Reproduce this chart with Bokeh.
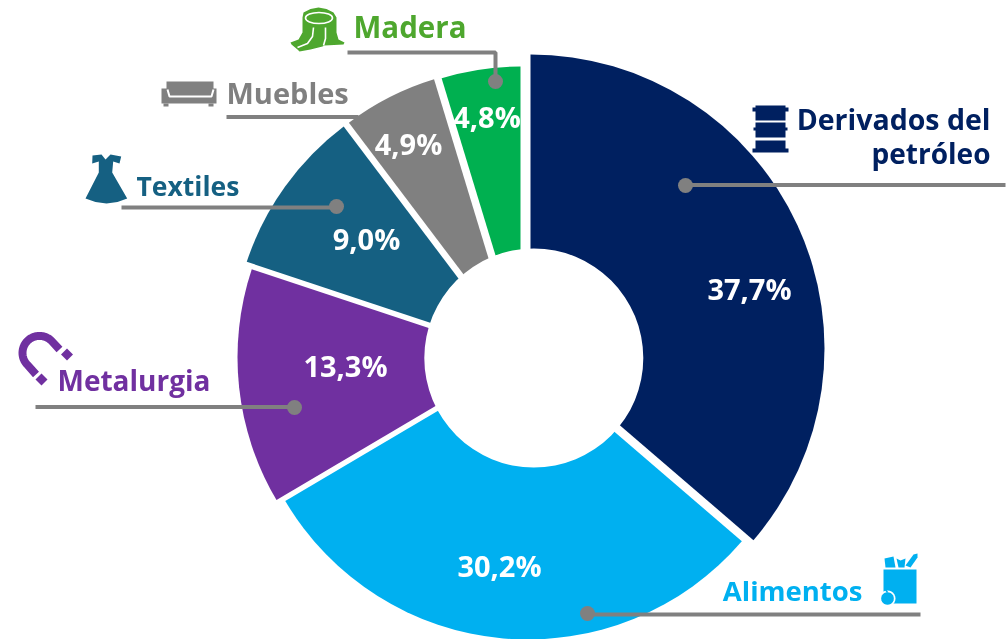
import math
from bokeh.plotting import figure
from bokeh.models import Range1d
from bokeh.core.properties import value
from bokeh.embed import file_html
from bokeh.resources import INLINE

# ---- data
categories = ["Derivados del petróleo", "Alimentos", "Metalurgia", "Textiles", "Muebles", "Madera"]
pct_labels = ["37,7%", "30,2%", "13,3%", "9,0%", "4,9%", "4,8%"]
slice_shares = [36.3, 30.2, 13.6, 9.6, 5.6, 4.7]   # drawn slice sizes as measured
colors = ["#002060", "#00B0F0", "#7030A0", "#156082", "#808080", "#00B050"]

# ---- layout (page pixels)
W, H = 1007, 639
FONT = "Open Sans"
apex_x = [530, 527.5, 517, 512, 513, 520]
apex_y = [348, 357, 357, 349.5, 340, 337]
radii = [294, 282, 280, 280, 273, 271]
hole = (533.3, 357.5, 109.5)
pct_pos = [(749, 288), (499, 565), (345, 365), (366, 238), (408, 143), (486.5, 116)]
GREY = "#808080"
MADERA = "#4EA72E"

def Y(v):
    return H - v

p = figure(width=W, height=H, toolbar_location=None, output_backend="svg",
           x_range=Range1d(0, W), y_range=Range1d(0, H), min_border=0,
           outline_line_color=None, background_fill_color="white",
           styles={"position": "fixed", "left": "0px", "top": "0px"})
p.axis.visible = False
p.grid.visible = False

# ---- slices
total = sum(slice_shares)
a = 90.0
for i, s in enumerate(slice_shares):
    b = a - s / total * 360
    p.wedge(x=[apex_x[i]], y=[Y(apex_y[i])], radius=radii[i],
            start_angle=[math.radians(a)], end_angle=[math.radians(b)], direction="clock",
            fill_color=colors[i], line_color=None)
    a = b
p.circle(x=[hole[0]], y=[Y(hole[1])], radius=hole[2], fill_color="white", line_color=None)

# ---- percentage labels
for t, (x, y) in zip(pct_labels, pct_pos):
    p.text(x=[x], y=[Y(y)], text=[t], text_color="white", text_font=value(FONT),
           text_font_style="bold", text_font_size="29px", text_align="center", text_baseline="middle")

# ---- leader lines
def path(xs, ys, w=4, c=GREY):
    p.line(xs, [Y(v) for v in ys], line_color=c, line_width=w)

def dot(x, y):
    p.circle(x=[x], y=[Y(y)], radius=7.5, fill_color=GREY, line_color=None)

path([685, 1005], [184.5, 184.5]); dot(685, 185)
path([587, 920], [614, 614]); dot(587, 613)
path([35, 294], [406.5, 406.5]); dot(294, 407)
path([121, 336], [207, 207]); dot(336, 206)
path([226, 358], [116.5, 116.5])
path([347, 495, 495], [52, 52, 81]); dot(495, 81)

# ---- category labels
def label(t, x, y, c, size=28, align="left"):
    p.text(x=[x], y=[Y(y)], text=[t], text_color=c, text_font=value(FONT), text_font_style="bold",
           text_font_size=f"{size}px", text_align=align, text_baseline="middle")

label("Derivados del", 990, 118, colors[0], size=28.5, align="right")
label("petróleo", 990, 152, colors[0], align="right")
label(categories[1], 862, 590, colors[1], size=27.5, align="right")
label(categories[2], 57, 379, colors[2])
label(categories[3], 136, 185, colors[3], size=26.5)
label(categories[4], 226, 92, GREY, size=29)
label(categories[5], 353, 26, MADERA, size=29.5)

# ---- icons
def poly(pts, c):
    p.patch([q[0] for q in pts], [Y(q[1]) for q in pts], fill_color=c, line_color=None)

def rect(x0, y0, x1, y1, c):
    poly([(x0, y0), (x1, y0), (x1, y1), (x0, y1)], c)

def disc(x, y, r, c):
    poly([(x + r * math.cos(math.radians(t)), y + r * math.sin(math.radians(t))) for t in range(0, 360, 15)], c)

# barrel
c = colors[0]
rect(755, 105, 785, 120, c); rect(752, 107, 788, 111, c)
rect(755, 122, 785, 137, c); rect(753, 127, 787, 130, c)
rect(755, 140, 785, 149, c); rect(752, 148, 788, 152, c)

# grocery bag
c = colors[1]
rect(883, 569, 916, 603, c)
poly([(884, 558), (893, 556), (895, 567), (885, 567)], c)
poly([(896, 558), (900, 560), (905, 558), (904, 567), (898, 567)], c)
poly([(905, 565), (913, 554), (917, 553), (917, 557), (910, 567)], c)
disc(887, 598, 8, "white")
disc(887, 598, 6.3, c)
p.line([887, 885], [Y(592), Y(589)], line_color=c, line_width=1.5)

# magnet
c = colors[2]
mx, my, mr = 39, 352.4, 17
arc_x = [mx + mr * math.cos(math.radians(t)) for t in range(45, 226, 5)]
arc_y = [my - mr * math.sin(math.radians(t)) for t in range(45, 226, 5)]
p.line([59] + arc_x + [35.5], [Y(349)] + [Y(v) for v in arc_y] + [Y(374)], line_color=c, line_width=8)
poly([(66.5, 348), (72.5, 354), (66.5, 360), (60.5, 354)], c)
poly([(41, 373), (47, 379), (41, 385), (35, 379)], c)

# dress
poly([(92, 155), (101, 154), (105, 159), (110, 154), (120.7, 156), (119, 163), (112.7, 161),
      (111.7, 172), (126.7, 198), (117, 201.5), (106, 203), (95, 201.5), (85, 198),
      (98.3, 172), (98.3, 161), (91.7, 163)], colors[3])

# sofa
rect(166, 81, 213, 94, GREY)
rect(161, 88, 216, 103, GREY)
p.line([167, 169, 211, 213], [Y(89), Y(96), Y(96), Y(89)], line_color="white", line_width=2)
rect(163, 103, 168, 106, GREY); rect(208, 103, 213, 106, GREY)

# stump
c = MADERA
poly([(302, 17), (303, 12), (310, 8.5), (318, 7), (326, 8.5), (333, 12), (336, 17), (336, 32),
      (338, 39), (344, 42), (343, 44), (324, 45), (322, 46), (310, 49), (299, 51), (297, 49),
      (291, 44), (290, 42), (298, 39), (302, 32)], c)
p.ellipse(x=[318.5], y=[Y(17.5)], width=27, height=11, fill_color=None, line_color="white", line_width=1.6)
p.line([313, 312, 307, 297], [Y(27), Y(36), Y(43), Y(47)], line_color="white", line_width=1.6)
p.line([325, 325, 323], [Y(27), Y(38), Y(45)], line_color="white", line_width=1.6)

open("out.html", "w").write(file_html(p, INLINE))
